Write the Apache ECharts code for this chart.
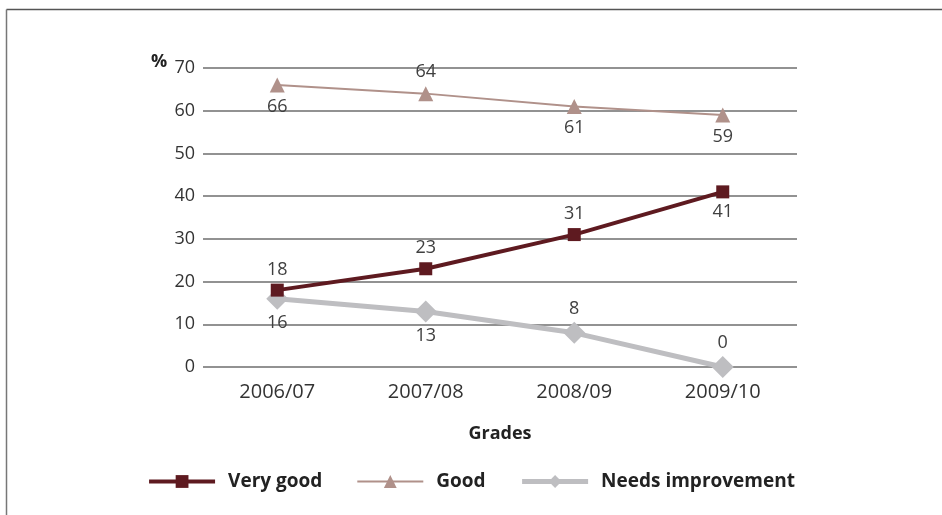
<!DOCTYPE html>
<html>
<head>
<meta charset="utf-8">
<script src="https://cdn.jsdelivr.net/npm/echarts@6/dist/echarts.min.js"></script>
<style>
  html, body { margin: 0; padding: 0; background: #fff; }
  #chart { width: 942px; height: 515px; }
</style>
</head>
<body>
<div id="chart"></div>
<script>
// chart data
const grades = ['2006/07', '2007/08', '2008/09', '2009/10'];
const veryGood = [18, 23, 31, 41];
const good = [66, 64, 61, 59];
const needsImprovement = [16, 13, 8, 0];
// where each value label sits
const veryGoodLabelPos = ['top', 'top', 'top', 'bottom'];
const goodLabelPos = ['bottom', 'top', 'bottom', 'bottom'];
const needsLabelPos = ['bottom', 'bottom', 'top', 'top'];

const font = 'Open Sans, DejaVu Sans, sans-serif';

function withLabels(values, positions) {
  return values.map(function (v, i) {
    return { value: v, label: { position: positions[i] } };
  });
}

const chart = echarts.init(document.getElementById('chart'));

chart.setOption({
  animation: false,
  textStyle: { fontFamily: font },
  grid: { left: 203, right: 145, top: 68, bottom: 148 },
  graphic: [
    { type: 'line', shape: { x1: 6.5, y1: 9.5, x2: 942, y2: 9.5 }, style: { stroke: '#555', lineWidth: 1.5 } },
    { type: 'line', shape: { x1: 6.5, y1: 9.5, x2: 6.5, y2: 515 }, style: { stroke: '#777', lineWidth: 1.5 } },
    { type: 'text', left: 151, top: 53, style: { text: '%', font: 'bold 18px ' + font, fill: '#222' } }
  ],
  xAxis: {
    type: 'category',
    data: grades,
    boundaryGap: true,
    name: 'Grades',
    nameLocation: 'middle',
    nameGap: 58,
    nameTextStyle: { fontSize: 18, fontWeight: 'bold', color: '#222', fontFamily: font },
    axisLine: { show: false },
    axisTick: { show: false },
    axisLabel: { fontSize: 20, color: '#333', margin: 15 }
  },
  yAxis: {
    type: 'value',
    min: 0,
    max: 70,
    interval: 10,
    axisLine: { show: false },
    axisTick: { show: false },
    axisLabel: { fontSize: 18, color: '#333', margin: 8 },
    splitLine: { lineStyle: { color: '#6e6e6e', width: 1.5 } }
  },
  legend: {
    bottom: 19,
    left: 'center',
    itemWidth: 66,
    itemHeight: 16,
    itemGap: 34,
    textStyle: { fontSize: 19, fontWeight: 'bold', color: '#222', fontFamily: font, padding: [0, 0, 0, 8] },
    data: [
      { name: 'Very good', lineStyle: { width: 4 } },
      { name: 'Good', lineStyle: { width: 2 } },
      { name: 'Needs improvement', lineStyle: { width: 5 } }
    ]
  },
  series: [
    {
      name: 'Good',
      type: 'line',
      data: withLabels(good, goodLabelPos),
      symbol: 'triangle',
      symbolSize: 15,
      lineStyle: { color: '#b0918a', width: 2 },
      itemStyle: { color: '#b0918a' },
      label: { show: true, fontSize: 18, color: '#404040', distance: 5 }
    },
    {
      name: 'Needs improvement',
      type: 'line',
      data: withLabels(needsImprovement, needsLabelPos),
      symbol: 'diamond',
      symbolSize: 22,
      lineStyle: { color: '#bebec1', width: 5 },
      itemStyle: { color: '#bebec1' },
      label: { show: true, fontSize: 18, color: '#404040', distance: 4 }
    },
    {
      name: 'Very good',
      type: 'line',
      data: withLabels(veryGood, veryGoodLabelPos),
      symbol: 'rect',
      symbolSize: 13,
      lineStyle: { color: '#5e1a20', width: 4 },
      itemStyle: { color: '#5e1a20' },
      label: { show: true, fontSize: 18, color: '#404040', distance: 5 }
    }
  ]
});
</script>
</body>
</html>
